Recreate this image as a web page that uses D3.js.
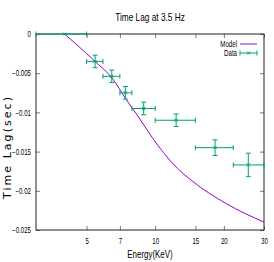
<!DOCTYPE html>
<html>
<head>
<meta charset="utf-8">
<script src="https://cdn.jsdelivr.net/npm/d3@7"></script>
<style>
body { margin: 0; background: #fff; }
text { font-family: "Liberation Sans", Arial, sans-serif; font-size: 9px; fill: #000; }
</style>
</head>
<body>
<div id="chart"></div>
<script>
var width = 274, height = 262;

// data
var energy    = [4, 5.45, 6.45, 7.4, 8.9, 12.35, 18.3, 25.6];
var energyLo  = [3, 5, 5.9, 7, 7.9, 10, 15, 22];
var energyHi  = [5, 5.9, 7, 7.9, 10, 15, 22, 30];
var lag       = [0, -0.0035, -0.0054, -0.0075, -0.0095, -0.011, -0.0145, -0.0167];
var lagErr    = [0, 0.0008, 0.0008, 0.0008, 0.0008, 0.0008, 0.0010, 0.0015];

var modelEnergy = [4, 5.4, 6.5, 7.4, 8.5, 9.75, 12.1, 14.6, 20.4, 30];
var modelLag    = [0, -0.0034, -0.0057, -0.0082, -0.0107, -0.0133, -0.0167, -0.0188, -0.0216, -0.0240];

var xTicks = [5, 7, 10, 15, 20, 30];
var yTicks = [0, -0.005, -0.01, -0.015, -0.02, -0.025];

var margin = {left: 36, right: 10, top: 34, bottom: 32};
var x = d3.scaleLog().domain([3, 30]).range([margin.left, width - margin.right]);
var y = d3.scaleLinear().domain([-0.025, 0]).range([height - margin.bottom, margin.top]);

var svg = d3.select("#chart").append("svg").attr("width", width).attr("height", height);

var purple = "#9400d3", green = "#009e73";

// squeeze text horizontally to look like the narrow gnuplot font
function narrow(sel) {
  sel.each(function() {
    var w = this.getComputedTextLength();
    if (w > 0) d3.select(this).attr("textLength", w * 0.72).attr("lengthAdjust", "spacingAndGlyphs");
  });
}

// title
svg.append("text").attr("x", 150).attr("y", 21).attr("text-anchor", "middle")
    .style("font-size", "11.5px").text("Time Lag at 3.5 Hz").call(narrow);

// axes (ticks inward, mirrored)
var tl = 4;
function tidy(g) { g.select(".domain").remove(); g.selectAll("line").attr("stroke", "#777"); }
svg.append("g").attr("transform", "translate(0," + y.range()[0] + ")")
    .call(d3.axisBottom(x).tickValues(xTicks).tickFormat(d3.format("d")).tickSizeInner(-tl).tickSizeOuter(0).tickPadding(8))
    .call(tidy);
svg.append("g").attr("transform", "translate(0," + y.range()[1] + ")")
    .call(d3.axisTop(x).tickValues(xTicks).tickFormat("").tickSizeInner(-tl).tickSizeOuter(0))
    .call(tidy);
svg.append("g").attr("transform", "translate(" + x.range()[0] + ",0)")
    .call(d3.axisLeft(y).tickValues(yTicks).tickFormat(function(d) { return d === 0 ? "0" : d3.format("")(d); }).tickSizeInner(-tl).tickSizeOuter(0).tickPadding(5))
    .call(tidy);
svg.append("g").attr("transform", "translate(" + x.range()[1] + ",0)")
    .call(d3.axisRight(y).tickValues(yTicks).tickFormat("").tickSizeInner(-tl).tickSizeOuter(0))
    .call(tidy);
svg.selectAll(".tick text").style("font-family", "'Liberation Sans', sans-serif").style("font-size", "8.5px").attr("fill", "#000").call(narrow);

// frame
svg.append("rect").attr("x", x.range()[0]).attr("y", y.range()[1])
    .attr("width", x.range()[1] - x.range()[0]).attr("height", y.range()[0] - y.range()[1])
    .attr("fill", "none").attr("stroke", "#222").attr("stroke-width", 1);

// axis labels
svg.append("text").attr("x", 150).attr("y", 258).attr("text-anchor", "middle")
    .style("font-size", "11px").text("Energy(KeV)").call(narrow);
svg.append("text").attr("transform", "translate(11,148) rotate(-90)").attr("text-anchor", "middle")
    .style("font-family", "'DejaVu Sans', sans-serif").style("font-size", "11px")
    .attr("textLength", 102).attr("lengthAdjust", "spacing").text("Time Lag(sec)");

// model curve
var line = d3.line().x(function(d) { return x(d[0]); }).y(function(d) { return y(d[1]); }).curve(d3.curveMonotoneX);
svg.append("path").datum(d3.zip(modelEnergy, modelLag))
    .attr("d", line).attr("fill", "none").attr("stroke", purple).attr("stroke-width", 1);

// data with error bars
var cap = 2.5;
var pts = svg.append("g").attr("stroke", green).attr("stroke-width", 1).attr("fill", "none");
energy.forEach(function(e, i) {
  var g = pts.append("g");
  var cx = x(e), cy = y(lag[i]);
  var x0 = x(energyLo[i]), x1 = x(energyHi[i]);
  var y0 = y(lag[i] + lagErr[i]), y1 = y(lag[i] - lagErr[i]);
  g.append("line").attr("x1", x0).attr("x2", x1).attr("y1", cy).attr("y2", cy);
  g.append("line").attr("x1", x0).attr("x2", x0).attr("y1", cy - cap).attr("y2", cy + cap);
  g.append("line").attr("x1", x1).attr("x2", x1).attr("y1", cy - cap).attr("y2", cy + cap);
  if (lagErr[i] > 0) {
    g.append("line").attr("x1", cx).attr("x2", cx).attr("y1", y0).attr("y2", y1);
    g.append("line").attr("x1", cx - cap).attr("x2", cx + cap).attr("y1", y0).attr("y2", y0);
    g.append("line").attr("x1", cx - cap).attr("x2", cx + cap).attr("y1", y1).attr("y2", y1);
  }
  g.append("path").attr("d", "M" + (cx - 1.5) + "," + (cy - 1.5) + "l3,3M" + (cx - 1.5) + "," + (cy + 1.5) + "l3,-3");
});

// legend
var lx0 = 240, lx1 = 257;
svg.append("text").attr("x", 237).attr("y", 47).attr("text-anchor", "end").style("font-size", "8.5px").text("Model").call(narrow);
svg.append("line").attr("x1", lx0).attr("x2", lx1).attr("y1", 44).attr("y2", 44).attr("stroke", purple);
svg.append("text").attr("x", 237).attr("y", 56).attr("text-anchor", "end").style("font-size", "8.5px").text("Data").call(narrow);
var lg = svg.append("g").attr("stroke", green).attr("fill", "none");
lg.append("line").attr("x1", lx0).attr("x2", lx1).attr("y1", 53).attr("y2", 53);
lg.append("line").attr("x1", lx0).attr("x2", lx0).attr("y1", 53 - cap).attr("y2", 53 + cap);
lg.append("line").attr("x1", lx1).attr("x2", lx1).attr("y1", 53 - cap).attr("y2", 53 + cap);
lg.append("path").attr("d", "M" + ((lx0 + lx1) / 2 - 1.5) + ",51.5l3,3m-3,0l3,-3");
</script>
</body>
</html>
